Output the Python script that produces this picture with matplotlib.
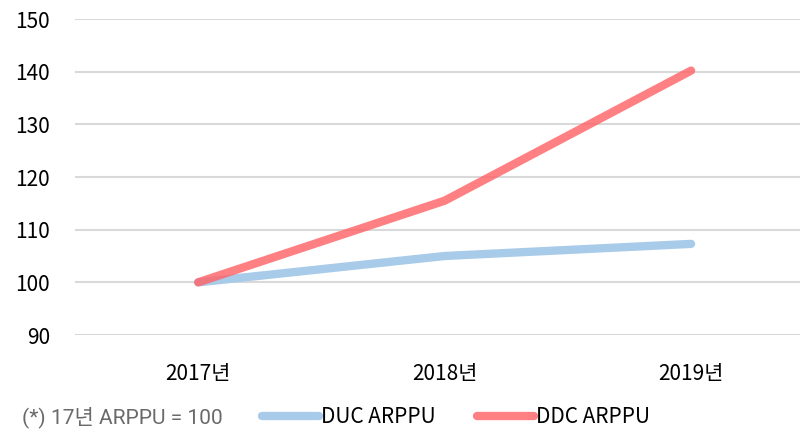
import matplotlib
matplotlib.use("Agg")
import matplotlib.pyplot as plt

categories = ["2017년", "2018년", "2019년"]
duc_values = [100, 105.0, 107.3]
ddc_values = [100, 115.5, 140.2]
y_ticks = [90, 100, 110, 120, 130, 140, 150]
series_labels = ["DUC ARPPU", "DDC ARPPU"]
footnote = "(*) 17년 ARPPU = 100"

FONT = ["Liberation Sans Narrow", "Noto Sans CJK KR", "DejaVu Sans"]
plt.rcParams["font.family"] = FONT

fig = plt.figure(figsize=(8, 4.29), dpi=100)
ax = fig.add_axes([75 / 800, (429 - 335) / 429, (800 - 75) / 800, (335 - 19) / 429])

x = list(range(len(categories)))
l1, = ax.plot(x, duc_values, color="#A9CBEA", lw=6, solid_capstyle="round", label=series_labels[0])
l2, = ax.plot(x, ddc_values, color="#FF6468", alpha=0.82, lw=6, solid_capstyle="round", label=series_labels[1])

ax.set_xlim(-0.5, 2.442)
ax.set_ylim(90, 150)
ax.set_yticks(y_ticks)
ax.set_xticks(x)
ax.set_xticklabels(categories)
ax.grid(axis="y", color="#D9D9D9", lw=1.5)
ax.set_axisbelow(True)
for s in ax.spines.values():
    s.set_visible(False)
ax.tick_params(length=0, labelsize=15, colors="#000000")
ax.tick_params(axis="y", pad=18)
ax.tick_params(axis="x", pad=20)

fig.text(22 / 800, 1 - 417 / 429, footnote, fontsize=15.1, color="#6A6A6A",
         va="center", ha="left", family=["Roboto", "Noto Sans CJK KR"], fontweight="normal")

fig.legend(handles=[l1, l2], loc="center left", bbox_to_anchor=(262 / 800, 1 - 417 / 429),
           frameon=False, fontsize=15, ncol=2, handlelength=2.75, handletextpad=0.1,
           columnspacing=1.95, borderaxespad=0, borderpad=0)

fig.savefig("out.png", dpi=100)
